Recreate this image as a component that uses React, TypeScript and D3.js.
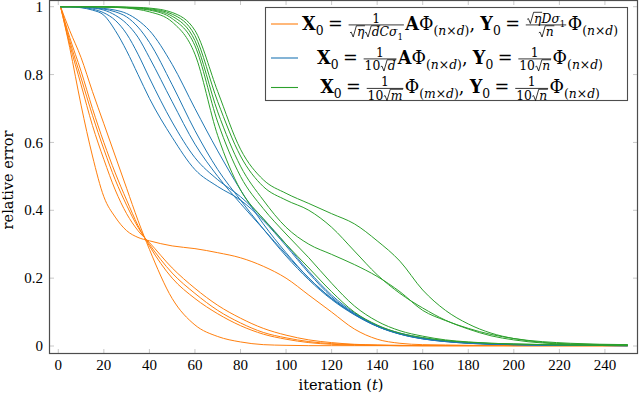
import React, { useEffect, useRef } from 'react';
import * as d3 from 'd3';

// iteration grid shared by every run
const iterations = [1, 5, 10, 15, 20, 25, 30, 35, 40, 50, 60, 70, 80, 90, 100, 110, 120, 130, 140, 150, 160, 170, 180, 190, 200, 225, 250];

// relative error of each run
const orangeRuns = [
  [1, 0.88, 0.71, 0.56, 0.44, 0.38, 0.34, 0.32, 0.31, 0.295, 0.287, 0.275, 0.26, 0.235, 0.2, 0.15, 0.1, 0.05, 0.02, 0.008, 0.004, 0.003, 0.002, 0.002, 0.001, 0.001, 0.001],
  [1, 0.93, 0.85, 0.75, 0.655, 0.56, 0.465, 0.37, 0.285, 0.14, 0.062, 0.028, 0.012, 0.004, 0.002, 0.001, 0.001, 0.001, 0.001, 0.001, 0.001, 0.001, 0.001, 0.001, 0.001, 0.001, 0.001],
  [1, 0.91, 0.81, 0.7, 0.6, 0.51, 0.43, 0.355, 0.295, 0.2, 0.14, 0.095, 0.06, 0.035, 0.02, 0.01, 0.005, 0.003, 0.002, 0.001, 0.001, 0.001, 0.001, 0.001, 0.001, 0.001, 0.001],
  [1, 0.9, 0.79, 0.68, 0.58, 0.49, 0.415, 0.35, 0.3, 0.215, 0.155, 0.105, 0.068, 0.04, 0.024, 0.013, 0.007, 0.004, 0.002, 0.001, 0.001, 0.001, 0.001, 0.001, 0.001, 0.001, 0.001],
  [1, 0.89, 0.77, 0.65, 0.55, 0.46, 0.39, 0.34, 0.305, 0.23, 0.17, 0.12, 0.082, 0.052, 0.032, 0.018, 0.01, 0.005, 0.003, 0.002, 0.001, 0.001, 0.001, 0.001, 0.001, 0.001, 0.001],
];

const blueRuns = [
  [1, 1, 0.997, 0.99, 0.975, 0.93, 0.87, 0.8, 0.73, 0.615, 0.52, 0.47, 0.43, 0.37, 0.295, 0.215, 0.145, 0.095, 0.058, 0.035, 0.021, 0.013, 0.008, 0.005, 0.004, 0.002, 0.001],
  [1, 1, 0.998, 0.993, 0.982, 0.96, 0.92, 0.86, 0.79, 0.66, 0.555, 0.49, 0.44, 0.375, 0.3, 0.22, 0.15, 0.098, 0.06, 0.036, 0.022, 0.014, 0.009, 0.006, 0.004, 0.002, 0.001],
  [1, 1, 0.999, 0.996, 0.99, 0.975, 0.95, 0.91, 0.85, 0.72, 0.595, 0.5, 0.42, 0.345, 0.27, 0.2, 0.14, 0.093, 0.058, 0.035, 0.021, 0.013, 0.008, 0.005, 0.004, 0.002, 0.001],
  [1, 1, 0.999, 0.997, 0.993, 0.985, 0.97, 0.94, 0.895, 0.77, 0.635, 0.52, 0.43, 0.345, 0.265, 0.195, 0.137, 0.092, 0.058, 0.036, 0.022, 0.014, 0.009, 0.006, 0.004, 0.002, 0.001],
  [1, 1, 1, 0.998, 0.995, 0.99, 0.98, 0.96, 0.93, 0.83, 0.7, 0.575, 0.46, 0.36, 0.275, 0.2, 0.14, 0.095, 0.06, 0.038, 0.024, 0.015, 0.01, 0.007, 0.005, 0.002, 0.001],
];

const greenRuns = [
  [1, 1, 1, 1, 0.999, 0.998, 0.996, 0.992, 0.985, 0.955, 0.86, 0.62, 0.46, 0.375, 0.3, 0.23, 0.16, 0.1, 0.062, 0.038, 0.025, 0.016, 0.011, 0.008, 0.006, 0.003, 0.002],
  [1, 1, 1, 1, 0.999, 0.998, 0.997, 0.994, 0.99, 0.965, 0.885, 0.66, 0.5, 0.405, 0.33, 0.26, 0.185, 0.118, 0.073, 0.045, 0.029, 0.018, 0.012, 0.008, 0.006, 0.003, 0.002],
  [1, 1, 1, 1, 1, 0.999, 0.998, 0.996, 0.992, 0.972, 0.9, 0.69, 0.53, 0.43, 0.35, 0.3, 0.27, 0.24, 0.205, 0.16, 0.105, 0.075, 0.052, 0.034, 0.022, 0.008, 0.004],
  [1, 1, 1, 1, 1, 0.999, 0.998, 0.997, 0.994, 0.978, 0.915, 0.72, 0.56, 0.47, 0.43, 0.4, 0.35, 0.28, 0.21, 0.155, 0.112, 0.076, 0.05, 0.03, 0.018, 0.005, 0.003],
  [1, 1, 1, 1, 1, 1, 0.999, 0.998, 0.996, 0.983, 0.93, 0.75, 0.58, 0.49, 0.45, 0.42, 0.39, 0.36, 0.31, 0.25, 0.165, 0.105, 0.065, 0.038, 0.022, 0.006, 0.003],
];

const xTicks = [0, 20, 40, 60, 80, 100, 120, 140, 160, 180, 200, 220, 240];
const yTicks = [0, 0.2, 0.4, 0.6, 0.8, 1];
const colors = ['#ff7f0e', '#1f77b4', '#2ca02c'];

const NUM_FONT = "'Liberation Serif', 'Times New Roman', serif";
const TEXT_FONT = "'DejaVu Serif', serif";

// tiny math layout: text, subscripts, fractions, square roots
type Tok =
  | { k: 'txt'; s: string; b?: boolean; i?: boolean }
  | { k: 'sp'; w: number }
  | { k: 'sub'; c: Tok[] }
  | { k: 'sqrt'; c: Tok[] }
  | { k: 'frac'; n: Tok[]; d: Tok[] };

const T = (s: string): Tok => ({ k: 'txt', s });
const B = (s: string): Tok => ({ k: 'txt', s, b: true });
const I = (s: string): Tok => ({ k: 'txt', s, i: true });
const sp = (w: number): Tok => ({ k: 'sp', w });
const sub = (...c: Tok[]): Tok => ({ k: 'sub', c });
const sqrt = (...c: Tok[]): Tok => ({ k: 'sqrt', c });
const frac = (n: Tok[], d: Tok[]): Tok => ({ k: 'frac', n, d });
const eq = [sp(0.25), T('='), sp(0.25)];
const phiSub = (a: string) => [T('Φ'), sub(T('('), I(a), T('×'), I('d'), T(')'))];
const comma = [T(','), sp(0.3)];

const legendRows: Tok[][] = [
  [B('X'), sub(T('0')), ...eq, frac([T('1')], [sqrt(I('η')), sqrt(I('d')), I('C'), I('σ'), sub(T('1'))]), B('A'), ...phiSub('n'), ...comma,
    B('Y'), sub(T('0')), ...eq, frac([sqrt(I('η')), I('D'), I('σ'), sub(T('1'))], [sqrt(I('n'))]), ...phiSub('n')],
  [B('X'), sub(T('0')), ...eq, frac([T('1')], [T('10'), sqrt(I('d'))]), B('A'), ...phiSub('n'), ...comma,
    B('Y'), sub(T('0')), ...eq, frac([T('1')], [T('10'), sqrt(I('n'))]), ...phiSub('n')],
  [B('X'), sub(T('0')), ...eq, frac([T('1')], [T('10'), sqrt(I('m'))]), ...phiSub('m'), ...comma,
    B('Y'), sub(T('0')), ...eq, frac([T('1')], [T('10'), sqrt(I('n'))]), ...phiSub('n')],
];

function layout(g: any, toks: Tok[], x0: number, base: number, size: number): number {
  let x = x0;
  for (const t of toks) {
    if (t.k === 'txt') {
      const el = g.append('text')
        .attr('x', x).attr('y', base)
        .style('font-size', `${size}px`)
        .style('font-weight', t.b ? 'bold' : 'normal')
        .style('font-style', t.i ? 'italic' : 'normal')
        .text(t.s);
      x += (el.node() as SVGTextElement).getComputedTextLength();
    } else if (t.k === 'sp') {
      x += t.w * size;
    } else if (t.k === 'sub') {
      x += layout(g, t.c, x, base + size * 0.3, size * 0.7);
    } else if (t.k === 'sqrt') {
      const rw = size * 0.6;
      const cw = layout(g, t.c, x + rw, base, size);
      const top = base - size * 0.85;
      g.append('path')
        .attr('d', `M${x + size * 0.04},${base - size * 0.28} L${x + size * 0.14},${base - size * 0.34} L${x + size * 0.3},${base + size * 0.06} L${x + size * 0.56},${top} L${x + rw + cw + 0.5},${top}`)
        .attr('fill', 'none').attr('stroke', '#000').attr('stroke-width', Math.max(0.6, size * 0.055));
      x += rw + cw;
    } else if (t.k === 'frac') {
      const fs = size * 0.7;
      const ng = g.append('g');
      const nw = layout(ng, t.n, 0, 0, fs);
      const dg = g.append('g');
      const dw = layout(dg, t.d, 0, 0, fs);
      const pad = size * 0.08;
      const w = Math.max(nw, dw) + size * 0.1;
      const axis = base - size * 0.26;
      ng.attr('transform', `translate(${x + pad + (w - nw) / 2},${axis - size * 0.12})`);
      dg.attr('transform', `translate(${x + pad + (w - dw) / 2},${axis + fs * 0.92})`);
      g.append('line')
        .attr('x1', x + pad).attr('x2', x + pad + w)
        .attr('y1', axis).attr('y2', axis)
        .attr('stroke', '#000').attr('stroke-width', 0.6);
      x += w + 2 * pad;
    }
  }
  return x - x0;
}

const App = () => {
  const ref = useRef<SVGSVGElement>(null);

  useEffect(() => {
    const svg = d3.select(ref.current);
    svg.selectAll('*').remove();

    const left = 49.5, right = 637.5, top = 0.5, bottom = 353.5;
    const x = d3.scaleLinear().domain([-3.86, 254.3]).range([left, right]);
    const y = d3.scaleLinear().domain([-0.0221, 1.0183]).range([bottom, top]);

    // tick marks on all four sides, pointing inwards
    const ticks = svg.append('g').attr('stroke', '#c8c8c8').attr('stroke-width', 1);
    xTicks.forEach(t => {
      ticks.append('line').attr('x1', x(t)).attr('x2', x(t)).attr('y1', bottom).attr('y2', bottom - 4.5);
      ticks.append('line').attr('x1', x(t)).attr('x2', x(t)).attr('y1', top).attr('y2', top + 4.5);
    });
    yTicks.forEach(v => {
      ticks.append('line').attr('y1', y(v)).attr('y2', y(v)).attr('x1', left).attr('x2', left + 4.5);
      ticks.append('line').attr('y1', y(v)).attr('y2', y(v)).attr('x1', right).attr('x2', right - 4.5);
    });

    // tick labels
    svg.append('g').style('font-family', NUM_FONT).selectAll('text').data(xTicks).enter().append('text')
      .attr('x', d => x(d)).attr('y', 370)
      .attr('text-anchor', 'middle').style('font-size', '15px')
      .text(d => String(d));
    svg.append('g').style('font-family', NUM_FONT).selectAll('text').data(yTicks).enter().append('text')
      .attr('x', 43).attr('y', d => y(d)).attr('dy', '0.34em')
      .attr('text-anchor', 'end').style('font-size', '15px')
      .text(d => String(d));

    const xl = svg.append('text').attr('x', 341).attr('y', 390).attr('text-anchor', 'middle')
      .style('font-size', '14.5px').style('font-family', TEXT_FONT);
    xl.append('tspan').text('iteration (');
    xl.append('tspan').style('font-style', 'italic').text('t');
    xl.append('tspan').text(')');
    svg.append('text').attr('transform', 'translate(13,180) rotate(-90)').attr('text-anchor', 'middle')
      .style('font-size', '14.5px').style('font-family', TEXT_FONT)
      .text('relative error');

    // runs
    const line = d3.line<number>()
      .x((_, i) => x(iterations[i]))
      .y(d => y(d))
      .curve(d3.curveMonotoneX);
    [orangeRuns, blueRuns, greenRuns].forEach((runs, s) => {
      svg.append('g').selectAll('path').data(runs).enter().append('path')
        .attr('d', d => line(d))
        .attr('fill', 'none')
        .attr('stroke', colors[s])
        .attr('stroke-width', 1);
    });

    // frame
    svg.append('rect')
      .attr('x', left).attr('y', top).attr('width', right - left).attr('height', bottom - top)
      .attr('fill', 'none').attr('stroke', '#4d4d4d').attr('stroke-width', 1.2);

    // legend
    const lg = svg.append('g').style('font-family', TEXT_FONT);
    lg.append('rect').attr('x', 265.5).attr('y', 7.5).attr('width', 362).attr('height', 93)
      .attr('fill', '#fff').attr('stroke', '#4d4d4d').attr('stroke-width', 1.1);
    const baselines = [29.5, 63.5, 93];
    const targetFirst = 316;
    let scale = 1;
    legendRows.forEach((row, r) => {
      lg.append('line').attr('x1', 271).attr('x2', 298)
        .attr('y1', baselines[r] - 5.5).attr('y2', baselines[r] - 5.5)
        .attr('stroke', colors[r]).attr('stroke-width', 1.1);
      const rg = lg.append('g');
      const w = layout(rg, row, 0, 0, 13.5);
      if (r === 0) scale = targetFirst / w;
      rg.attr('transform', `translate(${460 - (w * scale) / 2},${baselines[r]}) scale(${scale})`);
    });
  }, []);

  return (
    <svg ref={ref} width={640} height={398}
      style={{ position: 'absolute', left: 0, top: 0, background: '#fff' }} />
  );
};

export default App;
